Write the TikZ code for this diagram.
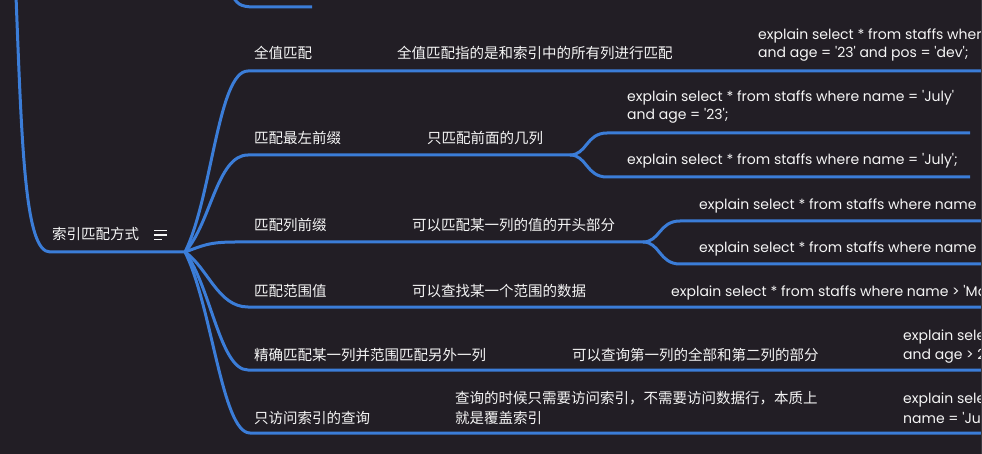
\documentclass[tikz,border=0pt]{standalone}
\usepackage{fontspec}
\setmainfont{Poppins}
\newfontfamily\cjk{Noto Sans CJK SC}
\newcommand\sq{\textquotesingle}
\definecolor{bg}{HTML}{221E25}
\definecolor{ln}{HTML}{3B7DD8}
\definecolor{tx}{HTML}{F5F5F5}
\definecolor{strip}{HTML}{3C3A40}
\begin{document}
\begin{tikzpicture}[x=1pt,y=-1pt,
  link/.style={draw=ln,line width=3pt},
  zh/.style={text=tx,font=\cjk\fontsize{14.5}{18}\selectfont,anchor=base west,inner sep=0pt},
  en/.style={text=tx,font=\fontsize{14.0}{18}\selectfont,anchor=base west,inner sep=0pt}]
\fill[bg] (0,0) rectangle (982,454);
\useasboundingbox (0,0) rectangle (982,454);
\clip (0,0) rectangle (982,454);

% key points
\coordinate (R) at (185,252);
\coordinate (L0) at (16,-4);
\coordinate (T0) at (231,-8);
\coordinate (T1) at (255,7);
\coordinate (T2) at (312,7);

% incoming line to root and previous sibling's underline
\draw[link] (L0) .. controls (22,150) and (25,252) .. (50,252) -- (R);
\draw[link] (T0) .. controls (236,4) and (240,7) .. (T1) -- (T2);

% root
\node[zh] (root) at (52,240) {索引匹配方式};
\draw[tx,line width=1.4pt] (154,230.7) -- (167,230.7) (154,235) -- (167,235) (154,239.3) -- (162,239.3);

% level 1 nodes
\node[zh] (n1) at (254,59) {全值匹配};
\node[zh] (n2) at (254,144) {匹配最左前缀};
\node[zh] (n3) at (254,231) {匹配列前缀};
\node[zh] (n4) at (254,297) {匹配范围值};
\node[zh] (n5) at (254,360) {精确匹配某一列并范围匹配另外一列};
\node[zh] (n6) at (254,423) {只访问索引的查询};

% level 2 nodes
\node[zh] (d1) at (397,59) {全值匹配指的是和索引中的所有列进行匹配};
\node[zh] (d2) at (427,144) {只匹配前面的几列};
\node[zh] (d3) at (412,231) {可以匹配某一列的值的开头部分};
\node[zh] (d4) at (412,297) {可以查找某一个范围的数据};
\node[zh] (d5) at (572,360) {可以查询第一列的全部和第二列的部分};
\node[zh] (d6a) at (455,403) {查询的时候只需要访问索引，不需要访问数据行，本质上};
\node[zh] (d6b) at (455,423) {就是覆盖索引};

% level 3 nodes (cut off by the right edge, as in the reference)
\node[en] (e1a) at (758,40) {explain select * from staffs where name};
\node[en] (e1b) at (758,58) {and age = \sq23\sq{} and pos = \sq dev\sq;};
\node[en] (e2a) at (627,102) {explain select * from staffs where name = \sq July\sq};
\node[en] (e2b) at (627,120) {and age = \sq23\sq;};
\node[en] (e2c) at (627,165) {explain select * from staffs where name = \sq July\sq;};
\node[en] (e3a) at (699,210) {explain select * from staffs where name like};
\node[en] (e3b) at (699,253) {explain select * from staffs where name like};
\node[en] (e4) at (671,297) {explain select * from staffs where name > \sq Mary\sq};
\node[en] (e5a) at (903,340) {explain select};
\node[en] (e5b) at (903,359) {and age > 23};
\node[en] (e6a) at (903,403) {explain select};
\node[en] (e6b) at (903,423) {name = \sq July\sq};

% branches from root
\draw[link] (R) .. controls (212,198) and (218,71) .. (248,71) -- (990,71);
\coordinate (S2) at (570,155);
\draw[link] (R) .. controls (211,223) and (217,155) .. (248,155) -- (S2);
\draw[link] (S2) .. controls (587,155) and (586,133) .. (607,133) -- (970,133);
\draw[link] (S2) .. controls (587,155) and (586,177) .. (607,177) -- (970,177);
\coordinate (S3) at (643,242);
\draw[link] (R) .. controls (202,246) and (208,242) .. (235,242) -- (S3);
\draw[link] (S3) .. controls (660,242) and (659,221) .. (680,221) -- (990,221);
\draw[link] (S3) .. controls (660,242) and (659,264) .. (680,264) -- (990,264);
\draw[link] (R) .. controls (208,268) and (218,307) .. (248,307) -- (990,307);
\draw[link] (R) .. controls (211,287) and (220,370) .. (248,370) -- (990,370);
\draw[link] (R) .. controls (212,306) and (222,433) .. (250,433) -- (990,433);

\fill[strip] (980.6,0) rectangle (982,454);
\end{tikzpicture}
\end{document}
